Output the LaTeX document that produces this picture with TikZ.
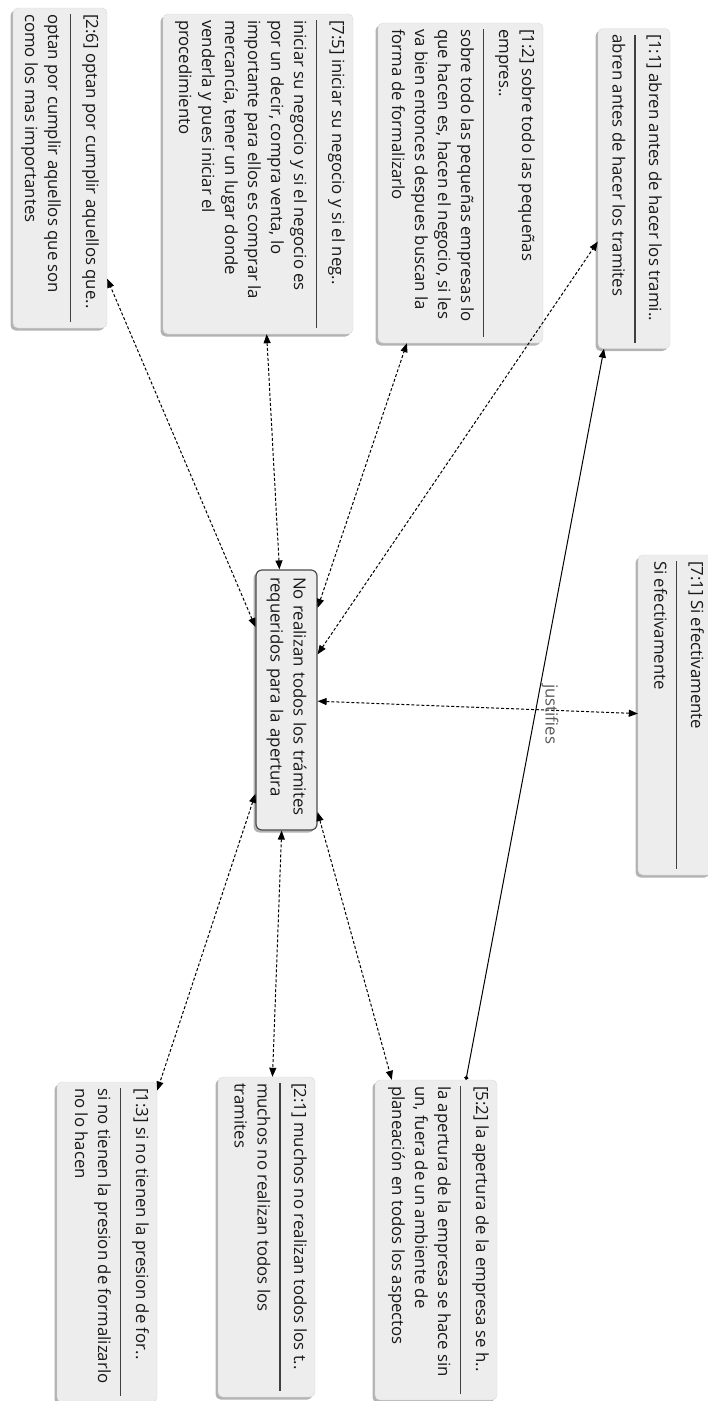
\documentclass[tikz,border=0pt]{standalone}
\usepackage{fontspec}
\setmainfont{Open Sans}
\usetikzlibrary{arrows.meta,shadows}

\newcommand{\citafont}{\fontsize{16.8}{23}\selectfont}
% quotation: inner height, header, body
\newcommand{\cita}[3]{%
  \begin{minipage}[t][#1][t]{308pt}\raggedright
    \rule{0pt}{12.5pt}#2\par
    \vspace{11pt}{\color{black!75}\hrule height 1.2pt}\vspace{9pt}
    \rule{0pt}{12.5pt}#3%
  \end{minipage}}

\begin{document}
\begin{tikzpicture}[x=1pt, y=-1pt,
    cita/.style={rectangle, rounded corners=5pt, rotate=-90, fill=black!7, draw=black!15,
      inner xsep=6pt, inner ysep=8pt, text=black!90, font=\citafont,
      drop shadow={shadow xshift=-2.5pt, shadow yshift=-2.5pt, opacity=0.6}},
    centro/.style={rectangle, rounded corners=6pt, rotate=-90, fill=black!7, draw=black!70,
      line width=1.2pt, align=left, text width=246pt, minimum height=61pt, inner xsep=7pt,
      text=black!90, font=\citafont,
      drop shadow={shadow xshift=-2.5pt, shadow yshift=-2.5pt, opacity=0.6}},
    punta/.tip={Triangle[length=9pt,width=7pt]},
    enlace/.style={densely dashed, line width=1pt, punta-punta},
    justifica/.style={line width=1pt, {Circle[length=4pt]}-punta}]

    \useasboundingbox (0,0) rectangle (708,1401);

    % Central code
    \node[centro] (tramites) at (286.5,700) {No realizan todos los trámites\\requeridos para la apertura};

    % Quotations above
    \node[cita] (c26) at (60,168) {\cita{78pt}{[2:6] optan por cumplir aquellos que..}{optan por cumplir aquellos que son\\como los mas importantes}};
    \node[cita] (c75) at (258,174) {\cita{174pt}{[7:5] iniciar su negocio y si el neg..}{iniciar su negocio y si el negocio es\\por un decir, compra venta, lo\\importante para ellos es comprar la\\mercancía, tener un lugar donde\\venderla y pues iniciar el\\procedimiento}};
    \node[cita] (c12) at (460.5,183) {\cita{149pt}{[1:2] sobre todo las pequeñas\\empres..}{sobre todo las pequeñas empresas lo\\que hacen es, hacen el negocio, si les\\va bien entonces despues buscan la\\forma de formalizarlo}};
    \node[cita] (c11) at (634,188.5) {\cita{56pt}{[1:1] abren antes de hacer los trami..}{abren antes de hacer los tramites}};

    % Quotation on the right
    \node[cita] (c71) at (675,715) {\cita{58pt}{[7:1] Si efectivamente}{Si efectivamente}};

    % Quotations below
    \node[cita] (c13) at (107,1242) {\cita{84pt}{[1:3] si no tienen la presion de for..}{si no tienen la presion de formalizarlo\\no lo hacen}};
    \node[cita] (c21) at (266.5,1237) {\cita{81pt}{[2:1] muchos no realizan todos los t..}{muchos no realizan todos los\\tramites}};
    \node[cita] (c52) at (436,1240) {\cita{106pt}{[5:2] la apertura de la empresa se h..}{la apertura de la empresa se hace sin\\un, fuera de un ambiente de\\planeación en todos los aspectos}};

    % Links to the central code
    \foreach \c in {c26,c75,c12,c11,c71,c13,c21,c52}
        \draw[enlace] (tramites) -- (\c);

    % Justifies
    \draw[justifica] (c52) -- (c11)
        node[midway, anchor=south, rotate=-90, inner sep=6pt, text=black!65, font=\citafont] (just) {justifies};

\end{tikzpicture}
\end{document}
